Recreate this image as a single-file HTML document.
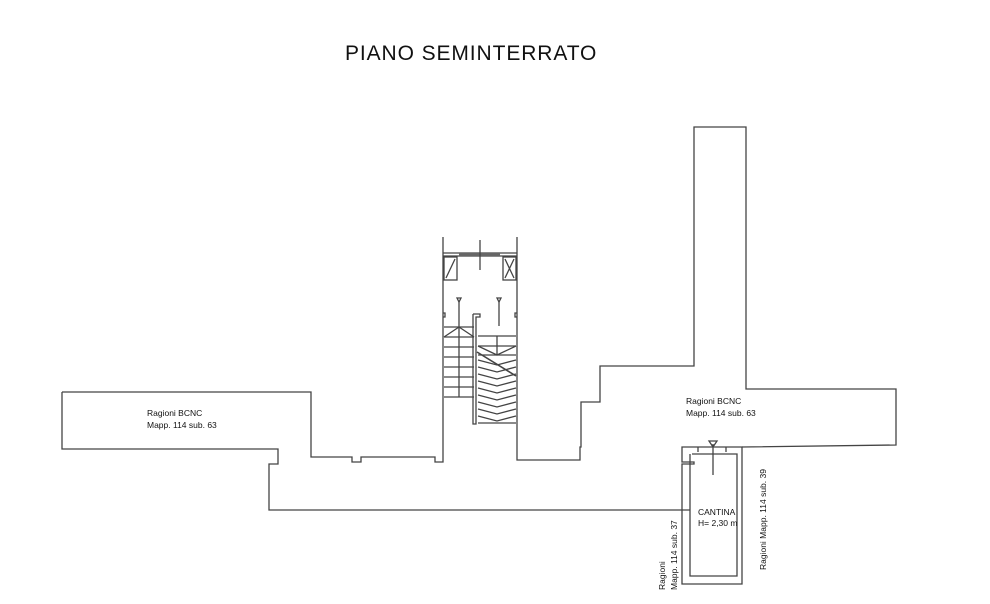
<!DOCTYPE html>
<html><head><meta charset="utf-8"><style>
html,body{margin:0;padding:0;background:#fff;}
svg{display:block;}
text{font-family:"Liberation Sans",Arial,sans-serif;fill:#111;}
</style></head><body>
<svg width="990" height="604" viewBox="0 0 990 604" xmlns="http://www.w3.org/2000/svg">
<g fill="none" stroke="#444" stroke-width="1.3">
<path d="M62,392 L311,392 L311,457 L352,457 L352,462 L361,462 L361,457 L435,457 L435,462 L443,462 L443,237
M517,237 L517,460 L580,460 L580,447 L581,447 L581,402 L600,402 L600,366 L694,366 L694,127 L746,127 L746,389 L896,389 L896,445 L742,447
M62,392 L62,449 L278,449 L278,464 L269,464 L269,510 L690,510"/>
<path d="M742,447 L742,584 L682,584 L682,464 L694,464 L694,462 L682,462 L682,447 Z"/>
<path d="M692,454 L737,454 L737,576 L690,576 L690,462 L690,454"/>
<path d="M698,452 L698,447 M726,452 L726,447"/>
<path d="M713,444 L713,475"/>
<path d="M709,441 L717,441 L713,447 Z"/>
<path d="M443,253 L517,253 M443,256 L517,256" />
<path d="M459,254.5 L500,254.5" stroke-width="3" stroke="#666"/>
<path d="M480,240 L480,270"/>
<rect x="444" y="257" width="13" height="23"/>
<path d="M446,278 L455,259"/>
<rect x="503" y="257" width="13" height="23"/>
<path d="M505,259 L514,278 M514,259 L505,278"/>
<path d="M457,298 L461,298 L459,302 Z M497,298 L501,298 L499,302 Z"/>
<path d="M459,302 L459,327 M499,302 L499,326"/>
<path d="M443,313 L445,313 L445,317 L443,317 M517,313 L515,313 L515,317 L517,317"/>
<path d="M473,314 L480,314 L480,317 L476,317 L476,424 L473,424 L473,317 L473,314"/>
<path d="M444,327 L474,327 M444,337 L474,337 M444,347 L474,347 M444,357 L474,357 M444,367 L474,367 M444,377 L474,377 M444,387 L474,387 M444,397 L474,397"/>
<path d="M459,327 L459,397 M444,337 L459,327 L474,337"/>
<path d="M478,336 L516,336 M478,346 L516,346 M478,355 L516,355 M478,423 L516,423"/>
<path d="M497,336 L497,355 M478,346 L497,355 L516,346"/>
<path d="M477,352 L516,376" stroke-width="1.6"/>
<path d="M478,360 L497,365 L516,360 M478,367 L497,372 L516,367 M478,374 L497,379 L516,374 M478,381 L497,386 L516,381 M478,388 L497,393 L516,388 M478,395 L497,400 L516,395 M478,402 L497,407 L516,402 M478,409 L497,414 L516,409 M478,416 L497,421 L516,416"/>
</g>
<text x="345" y="60" font-size="21" letter-spacing="0.9">PIANO SEMINTERRATO</text>
<text x="147" y="416" font-size="8.5">Ragioni BCNC</text>
<text x="147" y="428" font-size="8.5">Mapp. 114 sub. 63</text>
<text x="686" y="404" font-size="8.5">Ragioni BCNC</text>
<text x="686" y="416" font-size="8.5">Mapp. 114 sub. 63</text>
<text x="698" y="515" font-size="8.5">CANTINA</text>
<text x="698" y="526" font-size="8.5">H= 2,30 m</text>
<text transform="translate(665,590) rotate(-90)" font-size="8.5">Ragioni</text>
<text transform="translate(677,590) rotate(-90)" font-size="8.5">Mapp. 114 sub. 37</text>
<text transform="translate(766,570) rotate(-90)" font-size="8.5">Ragioni Mapp. 114 sub. 39</text>
</svg>
</body></html>
